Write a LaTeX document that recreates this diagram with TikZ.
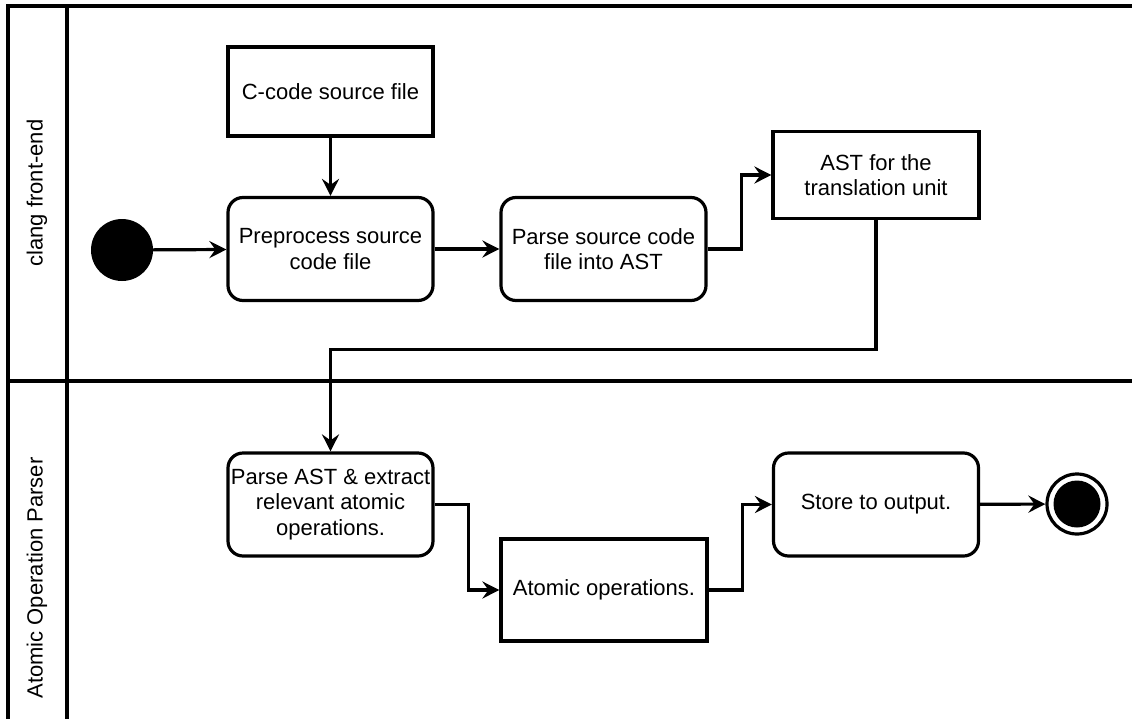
\documentclass[tikz,border=0pt]{standalone}
\usepackage{fontspec}
\setmainfont{Liberation Sans}
\usetikzlibrary{arrows.meta,calc}
\begin{document}
\begin{tikzpicture}[x=1pt,y=-1pt,
  every node/.style={font=\fontsize{22}{25.5}\selectfont},
  lane/.style={line width=3.2pt},
  actbox/.style={draw,line width=3.2pt,rounded corners=15pt,align=center,inner sep=0pt},
  databox/.style={draw,line width=3.2pt,align=center,inner sep=0pt},
  flow/.style={line width=3.2pt,-{Stealth[length=17pt,width=17pt,inset=6pt]}},
]
\useasboundingbox (0,0) rectangle (1132,718);
\clip (0,0) rectangle (1132,718);
% swimlanes
\draw[lane] (1140,6) -- (8,6) -- (8,730);
\draw[lane] (67,6) -- (67,730);
\draw[lane] (8,381) -- (1140,381);
\node[rotate=90] (lane1) at (37,193) {clang front-end};
\node[rotate=90] (lane2) at (37,578) {Atomic Operation Parser};
% nodes
\node[fill=black,circle,minimum size=62pt,inner sep=0pt] (start) at (122,250) {};
\node[databox,minimum width=205pt,minimum height=89pt] (src) at (330.5,91.5) {C-code source file};
\node[actbox,minimum width=205pt,minimum height=103pt] (pre) at (330.5,249) {Preprocess source\\code file};
\node[actbox,minimum width=205pt,minimum height=103pt] (parse) at (603.5,249) {Parse source code\\file into AST};
\node[databox,minimum width=206pt,minimum height=87pt] (ast) at (876,175) {AST for the\\translation unit};
\node[actbox,minimum width=205pt,minimum height=103pt] (pa) at (330.5,504.5) {Parse AST \& extract\\relevant atomic\\operations.};
\node[databox,minimum width=206pt,minimum height=102pt] (atom) at (604,590) {Atomic operations.};
\node[actbox,minimum width=205pt,minimum height=103pt] (store) at (876,504.5) {Store to output.};
\node[circle,draw,line width=3.2pt,minimum size=60pt,inner sep=0pt] (end) at (1077,504) {};
\node[circle,fill=black,minimum size=47pt,inner sep=0pt] (endin) at (end.center) {};
% connectors
\draw[flow] (start) -- (pre);
\draw[flow] (src) -- (pre);
\draw[flow] (pre) -- (parse);
\draw[flow] (parse.east) -- ++(34,0) |- (ast.west);
\draw[flow] (ast.south) -- ++(0,129) -| (pa.north);
\draw[flow] (pa.east) -- ++(34,0) |- (atom.west);
\draw[flow] (atom.east) -- ++(34,0) |- (store.west);
\draw[flow] (store) -- (end);
\end{tikzpicture}
\end{document}
